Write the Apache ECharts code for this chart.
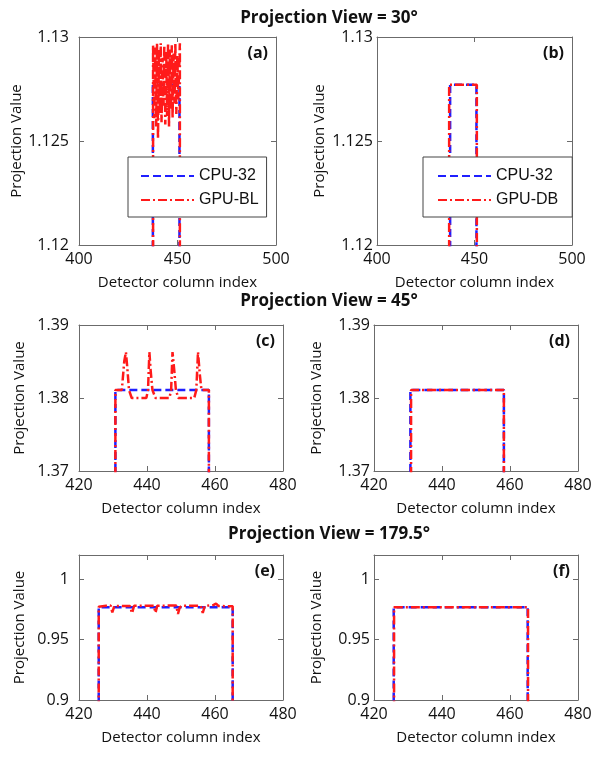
<!DOCTYPE html>
<html>
<head>
<meta charset="utf-8">
<script src="https://cdn.jsdelivr.net/npm/echarts@6/dist/echarts.min.js"></script>
<style>
  html, body { margin: 0; padding: 0; background: #fff; }
  #chart { width: 602px; height: 758px; }
</style>
</head>
<body>
<div id="chart"></div>
<script>
// ---- data (detector column index / projection value) ----
// view 30
const cpu30X = [437.5, 437.5, 451, 451];
const cpu30Y = [1.11, 1.1277, 1.1277, 1.11];
const gpuBL30X = [437.6, 437.6, 438.2, 438.7, 439.2, 439.6, 440.1, 440.6, 441.0, 441.5, 441.9, 442.4, 442.9,
  443.3, 443.8, 444.3, 444.7, 445.2, 445.7, 446.1, 446.6, 447.1, 447.5, 448.0, 448.5, 448.9, 449.4, 449.9,
  450.4, 451.2, 451.2];
const gpuBL30Y = [1.11, 1.1296, 1.1261, 1.1295, 1.1257, 1.1297, 1.1251, 1.1294, 1.1263, 1.1297, 1.1259,
  1.1290, 1.1267, 1.1296, 1.1258, 1.1293, 1.1262, 1.1297, 1.1257, 1.1294, 1.1265, 1.1296, 1.1261, 1.1292,
  1.1268, 1.1297, 1.1263, 1.1291, 1.1270, 1.1297, 1.11];
const gpuDB30X = [437.0, 437.0, 451.2, 451.2];
const gpuDB30Y = [1.11, 1.1277, 1.1277, 1.11];

// view 45
const cpu45X = [430.7, 430.7, 458.2, 458.2];
const cpu45Y = [1.36, 1.3811, 1.3811, 1.36];
const gpuBL45X = [430.7, 430.7, 432.6, 433.3, 433.8, 434.2, 434.7, 435.5, 439.8, 440.3, 440.7, 441.1,
  441.6, 442.5, 446.6, 447.1, 447.5, 448.0, 448.5, 449.2, 453.9, 454.5, 455.0, 455.5, 456.0, 458.2, 458.2];
const gpuBL45Y = [1.36, 1.3811, 1.3811, 1.3850, 1.3863, 1.3842, 1.3811, 1.3800, 1.3800, 1.3811, 1.3863,
  1.3836, 1.3811, 1.3800, 1.3800, 1.3811, 1.3863, 1.3839, 1.3811, 1.3800, 1.3800, 1.3811, 1.3863, 1.3834,
  1.3811, 1.3811, 1.36];
const gpuDB45X = [430.9, 430.9, 458.2, 458.2];
const gpuDB45Y = [1.36, 1.3811, 1.3811, 1.36];

// view 179.5
const cpu179X = [425.8, 425.8, 465.2, 465.2];
const cpu179Y = [0.85, 0.9767, 0.9767, 0.85];
const gpuBL179X = [425.8, 425.8, 428.0, 429.3, 429.8, 430.4, 435.0, 435.6, 436.2, 442.0, 442.5, 443.0,
  448.6, 449.1, 449.6, 450.2, 455.8, 456.4, 457.0, 459.5, 460.3, 461.0, 465.2, 465.2];
const gpuBL179Y = [0.85, 0.9772, 0.9780, 0.9782, 0.9725, 0.9778, 0.9778, 0.9718, 0.9780, 0.9780, 0.9722,
  0.9780, 0.9782, 0.9712, 0.9765, 0.9780, 0.9780, 0.9720, 0.9779, 0.9786, 0.9798, 0.9778, 0.9775, 0.85];
const gpuDB179X = [425.9, 425.9, 465.3, 465.3];
const gpuDB179Y = [0.85, 0.9768, 0.9768, 0.85];

const titles = ['Projection View = 30°', 'Projection View = 45°', 'Projection View = 179.5°'];
const panelTags = ['(a)', '(b)', '(c)', '(d)', '(e)', '(f)'];

// ---- layout ----
const grids = [
  { left: 79,  top: 37,  width: 197, height: 208 },
  { left: 377, top: 37,  width: 195, height: 208 },
  { left: 79,  top: 325, width: 204, height: 146 },
  { left: 374, top: 325, width: 204, height: 146 },
  { left: 79,  top: 555, width: 204, height: 145 },
  { left: 374, top: 555, width: 204, height: 145 }
];
const xRanges = [[400, 500, 50], [400, 500, 50], [420, 480, 20], [420, 480, 20], [420, 480, 20], [420, 480, 20]];
const yRanges = [[1.12, 1.13, 0.005], [1.12, 1.13, 0.005], [1.37, 1.39, 0.01], [1.37, 1.39, 0.01], [0.9, 1.02, 0.05], [0.9, 1.02, 0.05]];
const panelSeries = [
  [['CPU-32', cpu30X, cpu30Y], ['GPU-BL', gpuBL30X, gpuBL30Y]],
  [['CPU-32', cpu30X, cpu30Y], ['GPU-DB', gpuDB30X, gpuDB30Y]],
  [['CPU-32', cpu45X, cpu45Y], ['GPU-BL', gpuBL45X, gpuBL45Y]],
  [['CPU-32', cpu45X, cpu45Y], ['GPU-DB', gpuDB45X, gpuDB45Y]],
  [['CPU-32', cpu179X, cpu179Y], ['GPU-BL', gpuBL179X, gpuBL179Y]],
  [['CPU-32', cpu179X, cpu179Y], ['GPU-DB', gpuDB179X, gpuDB179Y]]
];

const FONT = '"Open Sans", sans-serif';
const FRAME = '#6b6b6b';
const frameLine = { show: true, onZero: false, lineStyle: { color: FRAME, width: 1 } };
const tick = { show: true, inside: true, length: 5, lineStyle: { color: FRAME } };

const xAxis = [], yAxis = [], series = [];
grids.forEach((g, i) => {
  const [x0, x1, xi] = xRanges[i];
  const [y0, y1, yi] = yRanges[i];
  const rightCol = i % 2 === 1;
  xAxis.push({
    type: 'value', gridIndex: i, min: x0, max: x1, interval: xi, position: 'bottom',
    axisLine: frameLine, axisTick: tick, splitLine: { show: false },
    axisLabel: { color: '#111', fontSize: 16, fontFamily: FONT, margin: 6 },
    name: 'Detector column index', nameLocation: 'middle', nameGap: 30,
    nameTextStyle: { color: '#111', fontSize: 15, fontFamily: FONT }
  });
  xAxis.push({
    type: 'value', gridIndex: i, min: x0, max: x1, interval: xi, position: 'top',
    axisLine: frameLine, axisTick: tick, axisLabel: { show: false }, splitLine: { show: false }
  });
  yAxis.push({
    type: 'value', gridIndex: i, min: y0, max: y1, interval: yi, position: 'left',
    axisLine: frameLine, axisTick: tick, splitLine: { show: false },
    axisLabel: { color: '#111', fontSize: 16, fontFamily: FONT, margin: rightCol ? 4 : 10, showMaxLabel: i < 4 },
    name: 'Projection Value', nameLocation: 'middle', nameRotate: 90, nameGap: rightCol ? 50 : 52,
    nameTextStyle: { color: '#111', fontSize: 15, fontFamily: FONT }
  });
  yAxis.push({
    type: 'value', gridIndex: i, min: y0, max: y1, interval: yi, position: 'right',
    axisLine: frameLine, axisTick: tick, axisLabel: { show: false }, splitLine: { show: false }
  });
  panelSeries[i].forEach(([name, xs, ys], k) => {
    const isCpu = k === 0;
    series.push({
      name, type: 'line', xAxisIndex: 2 * i, yAxisIndex: 2 * i,
      data: xs.map((x, j) => [x, ys[j]]),
      showSymbol: false, symbol: 'none', clip: true, animation: false,
      color: isCpu ? '#1f1fff' : '#ff1a1a',
      lineStyle: { width: 2.5, type: isCpu ? [8, 4] : [9, 3, 2, 3] },
      z: isCpu ? 2 : 3
    });
  });
});

const legendBase = {
  orient: 'vertical', itemWidth: 53, itemHeight: 14, itemGap: 8,
  borderColor: '#444', borderWidth: 1, backgroundColor: '#fff', borderRadius: 0,
  itemStyle: { opacity: 0 },
  textStyle: { color: '#111', fontSize: 16, fontFamily: '"Liberation Sans", Arial, sans-serif' },
  selectedMode: false, z: 10
};

const option = {
  animation: false,
  backgroundColor: '#fff',
  grid: grids.map(g => Object.assign({ containLabel: false }, g)),
  xAxis, yAxis, series,
  legend: [
    Object.assign({}, legendBase, { left: 128, top: 157, padding: [11, 8, 9, 12], data: ['CPU-32', 'GPU-BL'] }),
    Object.assign({}, legendBase, { left: 423, top: 157, padding: [11, 14, 9, 14], data: ['CPU-32', 'GPU-DB'] })
  ],
  graphic: [
    ...titles.map((t, i) => ({
      type: 'text', x: 329, y: [18, 301, 534][i],
      style: { text: t, fill: '#111', font: 'bold 17px "Open Sans", sans-serif', textAlign: 'center', textVerticalAlign: 'middle' }
    })),
    ...panelTags.map((t, i) => ({
      type: 'text', x: grids[i].left + grids[i].width - 8, y: grids[i].top + 16,
      style: { text: t, fill: '#111', font: 'bold 16px "Open Sans", sans-serif', textAlign: 'right', textVerticalAlign: 'middle' }
    }))
  ]
};

const chart = echarts.init(document.getElementById('chart'), null, { renderer: 'canvas' });
chart.setOption(option);
</script>
</body>
</html>
